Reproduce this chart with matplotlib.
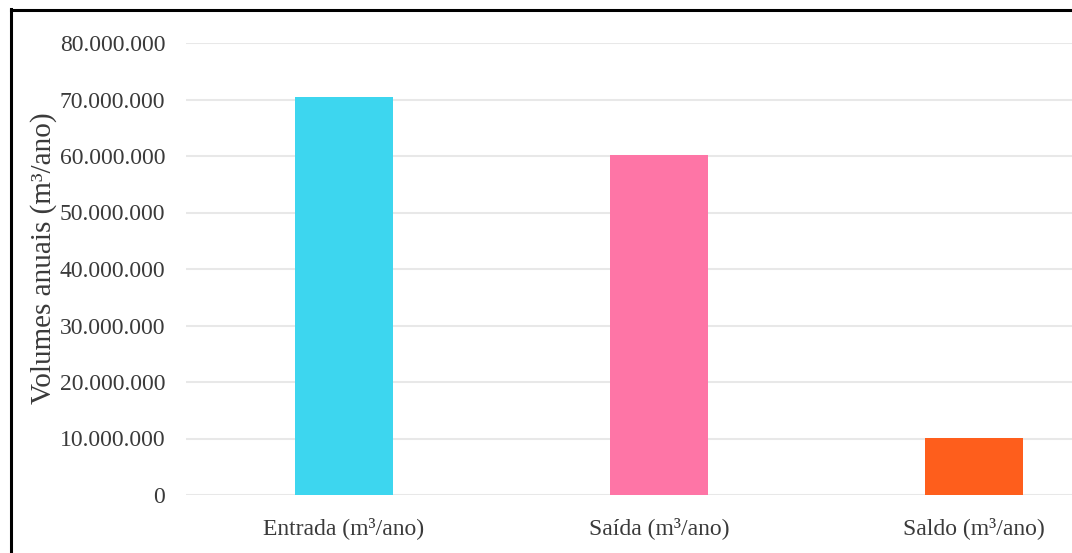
import matplotlib.pyplot as plt
from matplotlib.lines import Line2D
from matplotlib.ticker import FuncFormatter

# volumes anuais do balanco hidrico
categorias = ["Entrada (m³/ano)", "Saída (m³/ano)", "Saldo (m³/ano)"]
volumes = [70400000, 60200000, 10150000]
cores = ["#3dd6ef", "#fe75a6", "#fe5e1c"]
marcas_y = [0, 10000000, 20000000, 30000000, 40000000, 50000000, 60000000, 70000000, 80000000]

plt.rcParams["font.family"] = ["Liberation Serif", "DejaVu Serif"]

fig = plt.figure(figsize=(10.72, 5.53), dpi=100)
ax = fig.add_axes([186 / 1072, 58 / 553, 1 - 186 / 1072, 452 / 553])

posicoes = list(range(len(categorias)))
ax.bar(posicoes, volumes, width=0.311, color=cores, zorder=3)

# eixo y com separador de milhar em ponto
ax.set_ylim(0, 80000000)
ax.set_yticks(marcas_y)
ax.yaxis.set_major_formatter(FuncFormatter(lambda v, p: f"{int(v):,}".replace(",", ".")))
ax.set_xlim(-0.5, 2.311)
ax.set_xticks(posicoes, labels=categorias)

ax.tick_params(axis="y", length=0, pad=15, labelsize=17, labelcolor="#3a3a3a")
ax.tick_params(axis="x", length=0, pad=16, labelsize=17, labelcolor="#3a3a3a")
ax.set_ylabel("Volumes anuais (m³/ano)", fontsize=21, color="#3a3a3a")
ax.yaxis.set_label_coords(-0.146, 0.525)

ax.yaxis.grid(True, color="#e8e8e8", linewidth=1.5, zorder=0)
for lado in ax.spines.values():
    lado.set_visible(False)

# moldura preta no canto superior esquerdo
fig.add_artist(Line2D([10.5 / 1072, 10.5 / 1072], [0, 1 - 9 / 553], color="black",
                      linewidth=2.2, transform=fig.transFigure))
fig.add_artist(Line2D([10.5 / 1072, 1], [1 - 9.5 / 553, 1 - 9.5 / 553], color="black",
                      linewidth=2.2, transform=fig.transFigure))

fig.savefig("out.png", dpi=100)
